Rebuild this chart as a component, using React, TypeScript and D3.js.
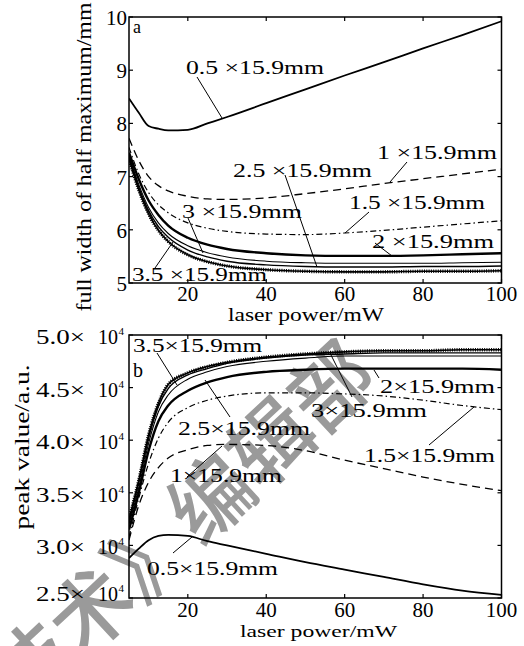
import * as d3 from 'd3';

// laser power (mW) sample points shared by every curve
const POWER = [5, 7.5, 10, 12.5, 15, 20, 25, 30, 40, 50, 60, 70, 80, 90, 100];

// panel a: full width of half maximum (mm)
const FWHM_05 = [8.47, 8.2, 7.95, 7.9, 7.87, 7.88, 8.0, 8.12, 8.38, 8.64, 8.9, 9.15, 9.41, 9.66, 9.92];
const FWHM_10 = [7.72, 7.3, 7.0, 6.83, 6.73, 6.63, 6.58, 6.57, 6.6, 6.68, 6.77, 6.87, 6.96, 7.05, 7.14];
const FWHM_15 = [7.55, 7.05, 6.7, 6.47, 6.32, 6.13, 6.03, 5.97, 5.92, 5.91, 5.94, 5.99, 6.05, 6.11, 6.17];
const FWHM_20 = [7.45, 6.95, 6.55, 6.28, 6.08, 5.85, 5.72, 5.64, 5.56, 5.52, 5.51, 5.51, 5.52, 5.54, 5.56];
const FWHM_25 = [7.4, 6.85, 6.42, 6.13, 5.93, 5.7, 5.57, 5.49, 5.41, 5.38, 5.37, 5.37, 5.37, 5.38, 5.39];
const FWHM_30 = [7.37, 6.8, 6.36, 6.06, 5.86, 5.62, 5.49, 5.41, 5.34, 5.31, 5.3, 5.3, 5.31, 5.31, 5.32];
const FWHM_35 = [7.33, 6.75, 6.3, 5.99, 5.78, 5.53, 5.4, 5.32, 5.25, 5.22, 5.21, 5.21, 5.22, 5.22, 5.23];

// panel b: peak value (x 10^4 a.u.)
const PEAK_05 = [2.88, 2.97, 3.05, 3.09, 3.1, 3.09, 3.04, 3.0, 2.92, 2.84, 2.77, 2.7, 2.63, 2.57, 2.53];
const PEAK_10 = [3.05, 3.38, 3.6, 3.74, 3.83, 3.91, 3.95, 3.96, 3.95, 3.9, 3.81, 3.73, 3.65, 3.58, 3.52];
const PEAK_15 = [3.08, 3.45, 3.78, 4.02, 4.17, 4.31, 4.38, 4.42, 4.45, 4.45, 4.44, 4.42, 4.38, 4.33, 4.29];
const PEAK_20 = [3.15, 3.5, 3.9, 4.18, 4.33, 4.47, 4.55, 4.6, 4.65, 4.67, 4.68, 4.68, 4.68, 4.68, 4.67];
const PEAK_25 = [3.2, 3.55, 3.97, 4.27, 4.43, 4.58, 4.65, 4.7, 4.75, 4.78, 4.8, 4.8, 4.8, 4.8, 4.8];
const PEAK_30 = [3.22, 3.6, 4.02, 4.32, 4.49, 4.62, 4.68, 4.73, 4.78, 4.81, 4.82, 4.83, 4.83, 4.83, 4.83];
const PEAK_35 = [3.25, 3.62, 4.05, 4.35, 4.53, 4.64, 4.7, 4.74, 4.79, 4.82, 4.84, 4.85, 4.85, 4.86, 4.86];

const X_TICKS = [20, 40, 60, 80, 100];
const FWHM_TICKS = [5, 6, 7, 8, 9, 10];
const PEAK_TICKS = [2.5, 3.0, 3.5, 4.0, 4.5, 5.0];

const SERIF = '"Liberation Serif", "Times New Roman", serif';

// line style per slit size
const STYLES = {
  '0.5': { width: 1.8 },
  '1': { width: 1.3, dash: '8 5' },
  '1.5': { width: 1.2, dash: '6 3 1.5 3' },
  '2': { width: 2.4 },
  '2.5': { width: 1.1 },
  '3': { width: 1.4 },
  '3.5': { width: 1.6, dotted: true },
};

const FWHM_SERIES = [
  ['0.5', FWHM_05], ['1', FWHM_10], ['1.5', FWHM_15], ['2', FWHM_20],
  ['2.5', FWHM_25], ['3', FWHM_30], ['3.5', FWHM_35],
];
const PEAK_SERIES = [
  ['0.5', PEAK_05], ['1', PEAK_10], ['1.5', PEAK_15], ['2', PEAK_20],
  ['2.5', PEAK_25], ['3', PEAK_30], ['3.5', PEAK_35],
];

// curve labels: [text, x, baseline, width, leader x1, y1, x2, y2]
const FWHM_LABELS = [
  ['0.5 ×15.9mm', 186, 74, 138, 197, 77, 222, 118],
  ['2.5 ×15.9mm', 233, 177, 139, 285, 175, 317, 267],
  ['1 ×15.9mm', 377, 159, 120, 407, 162, 390, 182],
  ['1.5 ×15.9mm', 349, 209, 136, 369, 212, 345, 233],
  ['2 ×15.9mm', 372, 248, 122, 375, 243, 392, 256],
  ['3 ×15.9mm', 182, 218, 120, 188, 218, 203, 253],
  ['3.5 ×15.9mm', 132, 281, 135, 155, 268, 173, 242],
];
const PEAK_LABELS = [
  ['3.5×15.9mm', 133, 352, 129, 157, 353, 177, 385],
  ['2.5×15.9mm', 178, 435, 132, 230, 417, 205, 380],
  ['1×15.9mm', 170, 482, 112, 187, 477, 222, 446],
  ['0.5×15.9mm', 147, 575, 131, 173, 553, 192, 537],
  ['2×15.9mm', 380, 393, 115, 374, 370, 379, 378],
  ['3×15.9mm', 311, 417, 116, 352, 397, 330, 353],
  ['1.5×15.9mm', 364, 462, 131, 429, 445, 474, 407],
];

const LEFT = 129;
const RIGHT = 501.5;

function Curves({ series, y, clipId }) {
  const x = d3.scaleLinear().domain([5, 100]).range([LEFT, RIGHT]);
  const line = d3
    .line()
    .x((d) => x(d[0]))
    .y((d) => y(d[1]))
    .curve(d3.curveMonotoneX);
  return (
    <g clipPath={`url(#${clipId})`} fill='none' stroke='#000'>
      {series.map(([key, vals]) => {
        const st = STYLES[key];
        const d = line(POWER.map((p, i) => [p, vals[i]]));
        if (st.dotted)
          return (
            <g key={key}>
              <path d={d} strokeWidth={st.width} />
              <path d={d} strokeWidth={3.4} strokeDasharray='1 1.3' />
            </g>
          );
        return (
          <path
            key={key}
            d={d}
            strokeWidth={st.width}
            strokeDasharray={st.dash}
          />
        );
      })}
    </g>
  );
}

function Frame({ y, ticks, top, bottom }) {
  const x = d3.scaleLinear().domain([5, 100]).range([LEFT, RIGHT]);
  return (
    <g stroke='#000' strokeWidth={1.2}>
      <rect x={LEFT} y={top} width={RIGHT - LEFT} height={bottom - top} fill='none' strokeWidth={1.5} />
      {X_TICKS.map((t) => (
        <g key={t}>
          <line x1={x(t)} x2={x(t)} y1={bottom} y2={bottom - 4} />
          <line x1={x(t)} x2={x(t)} y1={top} y2={top + 4} />
        </g>
      ))}
      {ticks.map((t) => (
        <g key={t}>
          <line x1={LEFT} x2={LEFT + 4} y1={y(t)} y2={y(t)} />
          <line x1={RIGHT} x2={RIGHT - 4} y1={y(t)} y2={y(t)} />
        </g>
      ))}
    </g>
  );
}

function CurveLabels({ labels }) {
  return (
    <g>
      {labels.map(([t, lx, ly, w, x1, y1, x2, y2]) => (
        <g key={t}>
          <line x1={x1} y1={y1} x2={x2} y2={y2} stroke='#000' strokeWidth={1} />
          <text
            x={lx}
            y={ly}
            fontSize={19}
            textLength={w}
            lengthAdjust='spacingAndGlyphs'>
            {t}
          </text>
        </g>
      ))}
    </g>
  );
}

export default function App() {
  const x = d3.scaleLinear().domain([5, 100]).range([LEFT, RIGHT]);
  const yA = d3.scaleLinear().domain([5, 10]).range([283, 17]);
  const yB = d3.scaleLinear().domain([2.5, 5]).range([598, 335]);

  return (
    <svg
      width={524}
      height={646}
      style={{ position: 'absolute', left: 0, top: 0, background: '#fff' }}
      fontFamily={SERIF}>
      <defs>
        <clipPath id='clipA'>
          <rect x={LEFT} y={17} width={RIGHT - LEFT} height={266} />
        </clipPath>
        <clipPath id='clipB'>
          <rect x={LEFT} y={335} width={RIGHT - LEFT} height={263} />
        </clipPath>
      </defs>

      {/* watermark */}
      <text
        transform='translate(328,382) rotate(-43)'
        x={40}
        textAnchor='end'
        dominantBaseline='central'
        fontFamily='"Noto Sans CJK SC", sans-serif'
        fontWeight={500}
        fontSize={82}
        fill='#9a9a9a'>
        《激光技术》编辑部
      </text>

      {/* panel a */}
      <Curves series={FWHM_SERIES} y={yA} clipId='clipA' />
      <Frame y={yA} ticks={FWHM_TICKS} top={17} bottom={283} />
      <CurveLabels labels={FWHM_LABELS} />
      <text x={133} y={33} fontSize={18}>a</text>
      {FWHM_TICKS.map((t) => (
        <text key={t} x={127} y={yA(t) + 8} fontSize={21} textAnchor='end'>
          {t}
        </text>
      ))}
      {X_TICKS.map((t) => (
        <text key={t} x={x(t)} y={301} fontSize={21} textAnchor='middle'>
          {t}
        </text>
      ))}
      <text x={228} y={321} fontSize={18} textLength={156} lengthAdjust='spacingAndGlyphs'>
        laser power/mW
      </text>
      <text
        transform='translate(91,157) rotate(-90)'
        textAnchor='middle'
        fontSize={22}
        textLength={309}
        lengthAdjust='spacingAndGlyphs'>
        full width of half maximum/mm
      </text>

      {/* panel b */}
      <Curves series={PEAK_SERIES} y={yB} clipId='clipB' />
      <Frame y={yB} ticks={PEAK_TICKS} top={335} bottom={598} />
      <CurveLabels labels={PEAK_LABELS} />
      <text x={133} y={377} fontSize={20}>b</text>
      {PEAK_TICKS.map((t, i) => {
        const by = yB(t) + (i === 0 ? 3 : 9);
        return (
          <g key={t} fontSize={20}>
            <text x={36} y={by} textLength={49} lengthAdjust='spacingAndGlyphs'>
              {t.toFixed(1)}×
            </text>
            <text x={118} y={by} textAnchor='end'>10</text>
            <text x={118.5} y={by - 9} fontSize={11}>4</text>
          </g>
        );
      })}
      {X_TICKS.map((t) => (
        <text key={t} x={x(t)} y={617} fontSize={21} textAnchor='middle'>
          {t}
        </text>
      ))}
      <text x={240} y={637} fontSize={17} textLength={157} lengthAdjust='spacingAndGlyphs'>
        laser power/mW
      </text>
      <text
        transform='translate(29,447) rotate(-90)'
        textAnchor='middle'
        fontSize={20}
        textLength={165}
        lengthAdjust='spacingAndGlyphs'>
        peak value/a.u.
      </text>
    </svg>
  );
}
